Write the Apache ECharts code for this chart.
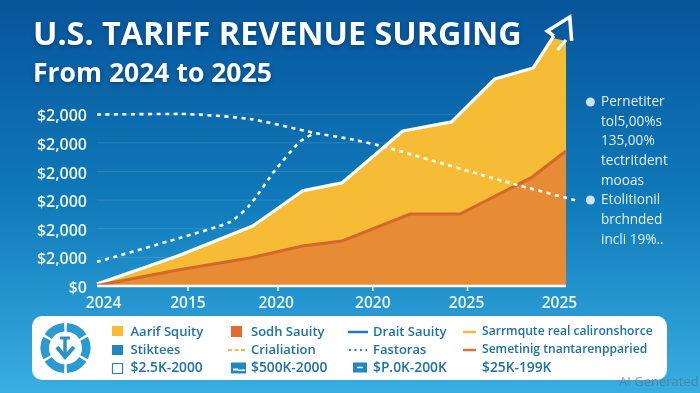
<!DOCTYPE html>
<html><head><meta charset="utf-8">
<style>html,body{margin:0;padding:0;background:#0f78b8}#c{width:700px;height:393px}</style>
<script src="https://cdn.jsdelivr.net/npm/echarts@6/dist/echarts.min.js"></script>
</head><body><div id="c"></div>
<script>
// ---- data ----
const titleText = 'U.S. TARIFF REVENUE SURGING';
const subtitleText = 'From 2024 to 2025';
const xTickPositions = [0.97, 1.93, 2.94, 3.95];
const xLabelPositions = [0.07, 0.97, 1.91, 2.94, 3.94, 4.93];
const xTickLabels = ['2024', '2015', '2020', '2020', '2025', '2025'];
const yTickValues = [0, 2000, 4000, 6000, 8000, 10000, 12000];
const yTickLabels = ['$0', '$2,000', '$2,000', '$2,000', '$2,000', '$2,000', '$2,000'];
const yellowFill = [[0,140],[0.86,2100],[1.66,4190],[2.19,6640],[2.61,7200],[3.26,10830],[3.78,11460],[4.24,14460],[4.65,15230],[4.86,17330],[5,17120]];
const yellowEdge = [[0,140],[0.86,2100],[1.66,4190],[2.19,6640],[2.61,7200],[3.26,10830],[3.78,11460],[4.24,14460],[4.65,15230],[4.87,17470]];
const arrowHead = [[4.87,17470],[4.80,17810],[5.04,18790],[5.06,17120]];
const arrowBar = [[4.91,16490],[5,17190]];
const orangeArea = [[0,30],[0.86,1120],[1.63,1960],[2.19,2790],[2.61,3140],[3.34,5030],[3.87,5030],[4.64,7610],[5,9430]];
const dashedRise = [[0,1680],[0.88,3350],[1.42,4470],[1.63,5660],[1.90,8100],[2.16,10060],[2.32,10690]];
const dashedFall = [[0,11980],[0.88,12020],[1.63,11670],[2.32,10690],[2.70,10270],[3.07,9710],[4.40,7200],[5.13,5940]];
const baselineEnds = [0, 5];
const tickDepth = -350;
const noteDots = [[5.26,12850],[5.26,6010]];
const noteLines = ['Pernetiter','tol5,00%s','135,00%','tectritdent','mooas','Etolitionil','brchnded','incli 19%..'];
const legendRows = [
  ['Aarif Squity','Sodh Sauity','Drait Sauity','Sarrmqute real calironshorce'],
  ['Stiktees','Crialiation','Fastoras','Semetinig tnantarenpparied'],
  ['$2.5K-2000','$500K-2000','$P.0K-200K','$25K-199K']
];
// -------------------------------------
const BLUE='#2a7fb5', TXT='#1f6fa8', Y='#f7bc36', O='#e88b35', FONT='"Open Sans"';
const el=[];
const text=(x,y,t,font,fill,extra)=>el.push({type:'text',x,y,silent:true,style:Object.assign({text:t,font,fill,textVerticalAlign:'middle',textAlign:'left'},extra||{})});
const rect=(x,y,w,h,fill,stroke)=>el.push({type:'rect',shape:{x,y,width:w,height:h},silent:true,style:{fill:fill||'none',stroke:stroke||null,lineWidth:stroke?1.2:0}});
const ln=(x1,y1,x2,y2,stroke,w,dash)=>el.push({type:'line',shape:{x1,y1,x2,y2},silent:true,style:{stroke,lineWidth:w,lineDash:dash||null}});
const shadow={textShadowColor:'rgba(0,30,70,.45)',textShadowBlur:4,textShadowOffsetY:2};
text(33,36,titleText,'700 32.3px '+FONT,'#fff',shadow);
text(33,74,subtitleText,'700 26.5px '+FONT,'#fff',shadow);
noteLines.forEach((t,i)=>text(601,102+i*19.7,t,'500 13.6px '+FONT,'#e3f0f9'));
// legend panel
el.push({type:'rect',shape:{x:32,y:316,width:635,height:64,r:10},silent:true,style:{fill:'#fff'}});
const cx=65.5,cy=348;
[90,30,-30,-90,-150,150].forEach(a=>{
  const r=Math.PI/180;
  el.push({type:'sector',silent:true,shape:{cx,cy,r:25,r0:16.5,startAngle:(a+3.5)*r,endAngle:(a+56.5)*r},style:{fill:'#2a9ad0'}});
});
ln(65,338,65,357,'#2a90c6',3.5);ln(60,338,70,338,'#2a90c6',3);
el.push({type:'polyline',silent:true,shape:{points:[[57,347],[65,357],[74,347]]},style:{stroke:'#2a90c6',lineWidth:4,fill:'none'}});
const colX=[130.5,251,373,482], rowY=[332,350,368];
const fontFor=(r,c)=> r===2 ? '600 13.8px '+FONT : (c===3 ? '600 12.1px '+FONT : '600 13px '+FONT);
legendRows.forEach((row,r)=>row.forEach((t,c)=>text(colX[c],rowY[r],t,fontFor(r,c),TXT)));
rect(112,326,11,10,Y);rect(231,326,11,11,'#e46a34');ln(348,332,368,332,'#1f78b4',2.5);ln(463,332,476,332,'#efb83e',2.5);
rect(112,345,11,10,'#1f88bf');ln(228,350,246,350,'#eeb860',2,[4,2.5]);ln(349,350,367,350,'#2a7fb5',2,[2,3.5]);ln(463,350,476,350,'#dd7040',2.5);
rect(112.5,363.5,10,10,'#fff',BLUE);
rect(231,362.5,15,11,'#1f88bf');rect(233,368.5,5,2,'#fff');rect(238,369.5,7,1.5,'#fff');
rect(353,362.5,14,10,'#1f88bf');ln(357,367.5,363,367.5,'#fff',1.5);
text(619,382,'AI Generated','400 13px '+FONT,'rgba(95,115,135,.7)');

const gridData=[];
yTickValues.slice(1).forEach(v=>{gridData.push([baselineEnds[0],v],[baselineEnds[1],v],['-','-']);});
const tickData=[];
xTickPositions.forEach(x=>{tickData.push([x,0],[x,tickDepth],['-','-']);});
const chart=echarts.init(document.getElementById('c'),null,{renderer:'canvas'});
const base={type:'line',symbol:'none',clip:false,animation:false,silent:true};
chart.setOption({
  animation:false,
  backgroundColor:{type:'linear',x:0,y:0,x2:0,y2:1,colorStops:[{offset:0,color:'#07559b'},{offset:.5,color:'#0f79b9'},{offset:1,color:'#38aee3'}]},
  grid:{left:97,right:87.1,top:14,bottom:102},
  xAxis:{type:'value',min:0,max:5.5,splitLine:{show:false},
    axisLine:{show:false},
    axisTick:{show:false},
    axisLabel:{customValues:xLabelPositions,margin:5,color:'#eef7fc',fontFamily:FONT,fontWeight:600,fontSize:15.5,
      formatter:(v)=>xTickLabels[xLabelPositions.indexOf(v)]}},
  yAxis:{type:'value',min:tickDepth,max:19000,axisLine:{show:false},
    axisTick:{show:false},
    splitLine:{show:false},
    axisLabel:{customValues:yTickValues,margin:10,color:'#eef7fc',fontFamily:FONT,fontWeight:600,fontSize:16,verticalAlign:'top',lineHeight:5,
      formatter:(v)=>yTickLabels[yTickValues.indexOf(v)]}},
  series:[
    Object.assign({},base,{name:'Gridlines',data:gridData,z:1,connectNulls:false,lineStyle:{color:'rgba(255,255,255,.13)',width:1}}),
    Object.assign({},base,{name:'Yellow',data:yellowFill,z:2,lineStyle:{width:0},areaStyle:{color:Y,opacity:1,origin:0}}),
    Object.assign({},base,{name:'YellowEdge',data:yellowEdge,z:3,lineStyle:{color:'#fff',width:3.2}}),
    Object.assign({},base,{name:'ArrowHead',data:arrowHead,z:3,lineStyle:{color:'#fff',width:3.6,join:'miter'}}),
    Object.assign({},base,{name:'ArrowBar',data:arrowBar,z:3,lineStyle:{color:'#fff',width:3}}),
    Object.assign({},base,{name:'Orange',data:orangeArea,z:4,lineStyle:{color:'#d3682a',width:3},areaStyle:{color:O,opacity:1,origin:0}}),
    Object.assign({},base,{name:'Baseline',data:baselineEnds.map(x=>[x,0]),z:6,lineStyle:{color:'#fff',width:2.5}}),
    Object.assign({},base,{name:'XTicks',data:tickData,z:6,connectNulls:false,lineStyle:{color:'#fff',width:1.5}}),
    Object.assign({},base,{name:'DashRise',data:dashedRise,z:5,smooth:0.2,lineStyle:{color:'#fff',width:2.6,type:[4,4.5]}}),
    Object.assign({},base,{name:'DashFall',data:dashedFall,z:5,smooth:0.2,lineStyle:{color:'#fff',width:2.6,type:[4,4.5]}}),
    {type:'scatter',name:'Notes',data:noteDots,clip:false,symbolSize:9,z:5,silent:true,animation:false,itemStyle:{color:'#fff'}}
  ],
  graphic:{elements:el}
});
</script></body></html>
